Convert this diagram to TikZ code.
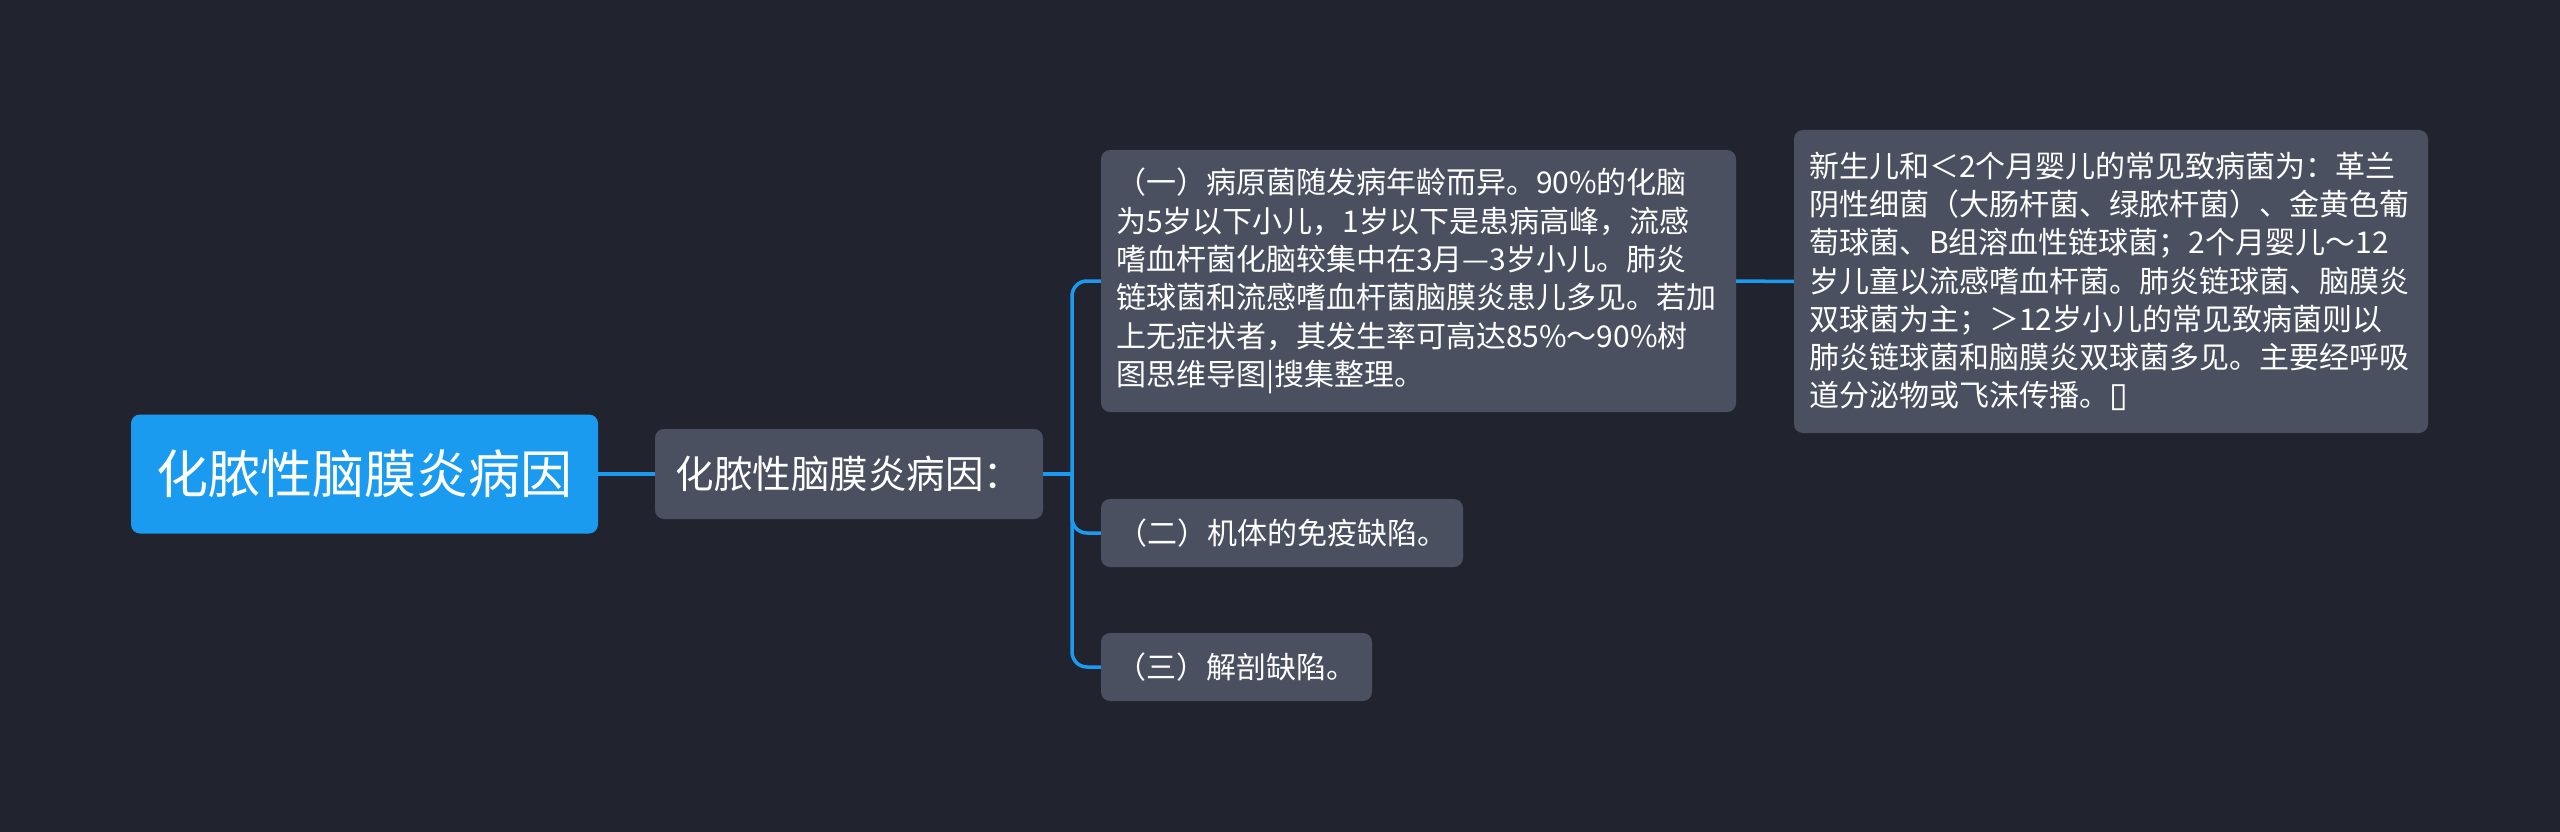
\documentclass[tikz,border=0pt]{standalone}
\usepackage{fontspec}
\setmainfont{Noto Sans CJK SC}
\newfontfamily\symfont{DejaVu Sans}
\definecolor{bgdark}{RGB}{33,36,46}
\definecolor{rootblue}{RGB}{26,155,240}
\definecolor{nodegray}{RGB}{74,80,96}
\tikzset{
	box/.style={fill=nodegray, rounded corners=9pt, text=white, inner xsep=15pt, inner ysep=0pt,
		font=\fontsize{30}{38.3}\selectfont},
	link/.style={draw=rootblue, line width=3.5pt},
}
\begin{document}
\begin{tikzpicture}[x=1pt, y=-1pt]
	\fill[bgdark] (0, 0) rectangle (2560, 832);
	\useasboundingbox (0, 0) rectangle (2560, 832);
	\node[box, fill=rootblue, minimum width=467pt, minimum height=119pt,
		font=\fontsize{52}{60}\selectfont] (root) at (364.5, 474) {化脓性脑膜炎病因};
	\node[box, minimum width=388pt, minimum height=90pt,
		font=\fontsize{38.5}{44}\selectfont] (cause) at (849, 474) {化脓性脑膜炎病因：};
	\node[box, align=left, text width=605pt, minimum height=262pt] (first) at (1418.5, 281) {%
		（一）病原菌随发病年龄而异。90\%的化脑\\
		为5岁以下小儿，1岁以下是患病高峰，流感\\
		嗜血杆菌化脑较集中在3月—3岁小儿。肺炎\\
		链球菌和流感嗜血杆菌脑膜炎患儿多见。若加\\
		上无症状者，其发生率可高达85\%～90\%树\\
		图思维导图|搜集整理。};
	\node[box, minimum width=362pt, minimum height=68pt] (second) at (1282, 533) {（二）机体的免疫缺陷。};
	\node[box, minimum width=271pt, minimum height=68pt] (third) at (1236.5, 667) {（三）解剖缺陷。};
	\node[box, align=left, text width=604pt, minimum height=303pt] (germs) at (2111, 281.5) {%
		新生儿和＜2个月婴儿的常见致病菌为：革兰\\
		阴性细菌（大肠杆菌、绿脓杆菌）、金黄色葡\\
		萄球菌、B组溶血性链球菌；2个月婴儿～12\\
		岁儿童以流感嗜血杆菌。肺炎链球菌、脑膜炎\\
		双球菌为主；＞12岁小儿的常见致病菌则以\\
		肺炎链球菌和脑膜炎双球菌多见。主要经呼吸\\
		道分泌物或飞沫传播。{\symfont\fontsize{34}{38.3}\selectfont ▯}};
	% connectors
	\coordinate (fork) at (1072, 474);
	\draw[link] (root.east) -- (cause.west);
	\draw[link] (cause.east) -- (fork);
	\foreach \c in {first, second, third}
		\draw[link, rounded corners=15pt] (fork) |- (\c.west);
	\draw[link] (first.east) -- (germs.west);
\end{tikzpicture}
\end{document}
